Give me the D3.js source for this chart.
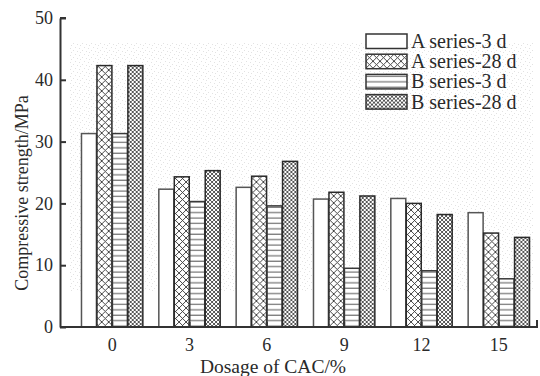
<!DOCTYPE html>
<html lang="en">
<head>
  <meta charset="utf-8">
  <script src="https://d3js.org/d3.v7.js"></script>
  <style>
    body { margin: 0; background: #fff; }
    text { font-family: "Liberation Serif", "DejaVu Serif", serif; fill: #2a2a2a; }
    .axis path, .axis line { stroke: #333; stroke-width: 2px; }
  </style>
</head>
<body>
<svg id="chart" width="540" height="376"></svg>
<script>
  // data
  let dosages = ["0", "3", "6", "9", "12", "15"];
  let seriesNames = ["A series-3 d", "A series-28 d", "B series-3 d", "B series-28 d"];
  let a3 = [31.3, 22.3, 22.6, 20.7, 20.8, 18.5];
  let a28 = [42.3, 24.3, 24.4, 21.8, 20.0, 15.2];
  let b3 = [31.3, 20.3, 19.6, 9.5, 9.1, 7.8];
  let b28 = [42.3, 25.3, 26.8, 21.2, 18.2, 14.5];
  let yTicks = [0, 10, 20, 30, 40, 50];

  let svg = d3.select("#chart");
  let values = [a3, a28, b3, b28];

  let defs = svg.append("defs");

  // wide cross hatch (A 28 d)
  let p1 = defs.append("pattern").attr("id", "crossA")
    .attr("patternUnits", "userSpaceOnUse").attr("width", 7).attr("height", 7);
  p1.append("rect").attr("width", 7).attr("height", 7).attr("fill", "#fff");
  p1.append("path").attr("d", "M0,0 L7,7 M7,0 L0,7 M-1,6 L1,8 M6,-1 L8,1 M-1,1 L1,-1 M6,8 L8,6")
    .attr("stroke", "#333").attr("stroke-width", 0.9);

  // dense cross hatch (B 28 d)
  let p2 = defs.append("pattern").attr("id", "crossB")
    .attr("patternUnits", "userSpaceOnUse").attr("width", 4).attr("height", 4);
  p2.append("rect").attr("width", 4).attr("height", 4).attr("fill", "#fff");
  p2.append("path").attr("d", "M0,0 L4,4 M4,0 L0,4")
    .attr("stroke", "#444").attr("stroke-width", 0.9);

  // horizontal lines (B 3 d)
  let p3 = defs.append("pattern").attr("id", "horiz")
    .attr("patternUnits", "userSpaceOnUse").attr("width", 8).attr("height", 5.4);
  p3.append("rect").attr("width", 8).attr("height", 5.4).attr("fill", "#fff");
  p3.append("line").attr("x1", 0).attr("x2", 8).attr("y1", 2).attr("y2", 2)
    .attr("stroke", "#555").attr("stroke-width", 1);

  // faint stippled background
  let p4 = defs.append("pattern").attr("id", "stipple")
    .attr("patternUnits", "userSpaceOnUse").attr("width", 9).attr("height", 7);
  [[1, 1], [5, 2], [3, 5], [7, 6], [8, 3]].forEach(function (d) {
    p4.append("rect").attr("x", d[0]).attr("y", d[1]).attr("width", 1).attr("height", 1)
      .attr("fill", "#e2e2e2");
  });

  let fills = ["#fff", "url(#crossA)", "url(#horiz)", "url(#crossB)"];
  let strokes = ["#555", "#2a2a2a", "#3a3a3a", "#2a2a2a"];

  let y = d3.scaleLinear().domain([0, 50]).range([327, 18]);
  let x0 = d3.scaleBand().domain(dosages).range([73, 537])
    .paddingInner(0.2).paddingOuter(0.1);
  let x1 = d3.scaleBand().domain(d3.range(4)).range([0, x0.bandwidth()]);

  svg.append("rect").attr("x", 70).attr("y", 42).attr("width", 464).attr("height", 250)
    .attr("fill", "url(#stipple)");

  // bars
  let groups = svg.append("g").selectAll("g")
    .data(dosages)
    .join("g")
    .attr("transform", d => "translate(" + x0(d) + ",0)");

  groups.selectAll("rect")
    .data((d, i) => values.map((v, s) => ({ s: s, v: v[i] })))
    .join("rect")
    .attr("x", d => x1(d.s) + 0.75)
    .attr("y", d => y(d.v))
    .attr("width", x1.bandwidth() - 0.5)
    .attr("height", d => y(0) - y(d.v))
    .attr("fill", d => fills[d.s])
    .attr("stroke", d => strokes[d.s])
    .attr("stroke-width", 1.5);

  // y axis
  let yAxis = svg.append("g").attr("class", "axis")
    .attr("transform", "translate(60,0)")
    .call(d3.axisLeft(y).tickValues(yTicks).tickSize(-6).tickSizeOuter(0).tickPadding(7));
  yAxis.selectAll("text").style("font-size", "18px");

  // x axis
  let xCenter = d3.scalePoint().domain(dosages).range([x0(dosages[0]) + x0.bandwidth() / 2,
    x0(dosages[5]) + x0.bandwidth() / 2]);
  let xAxis = svg.append("g").attr("class", "axis")
    .attr("transform", "translate(0,327)")
    .call(d3.axisBottom(xCenter).tickSize(-5).tickSizeOuter(0).tickPadding(11));
  xAxis.select(".domain").remove();
  xAxis.selectAll("text").style("font-size", "18px");
  svg.append("path")
    .attr("d", "M60,327 H537 V320")
    .attr("fill", "none").attr("stroke", "#333").attr("stroke-width", 2);
  svg.append("path")
    .attr("d", "M66,18 H60")
    .attr("fill", "none").attr("stroke", "#333").attr("stroke-width", 2);

  // axis titles
  svg.append("text")
    .attr("x", 273).attr("y", 373)
    .attr("text-anchor", "middle")
    .style("font-size", "19.5px")
    .text("Dosage of CAC/%");

  svg.append("text")
    .attr("transform", "translate(28,193) rotate(-90)")
    .attr("text-anchor", "middle")
    .style("font-size", "18px")
    .text("Compressive strength/MPa");

  // legend
  let legend = svg.append("g").attr("transform", "translate(366,34)");
  let items = legend.selectAll("g")
    .data(seriesNames)
    .join("g")
    .attr("transform", (d, i) => "translate(0," + i * 20.2 + ")");
  items.append("rect")
    .attr("width", 41).attr("height", 14.5)
    .attr("fill", (d, i) => fills[i])
    .attr("stroke", "#333").attr("stroke-width", 1.5);
  items.append("text")
    .attr("x", 45).attr("y", 14)
    .style("font-size", "20px")
    .text(d => d);
</script>
</body>
</html>
